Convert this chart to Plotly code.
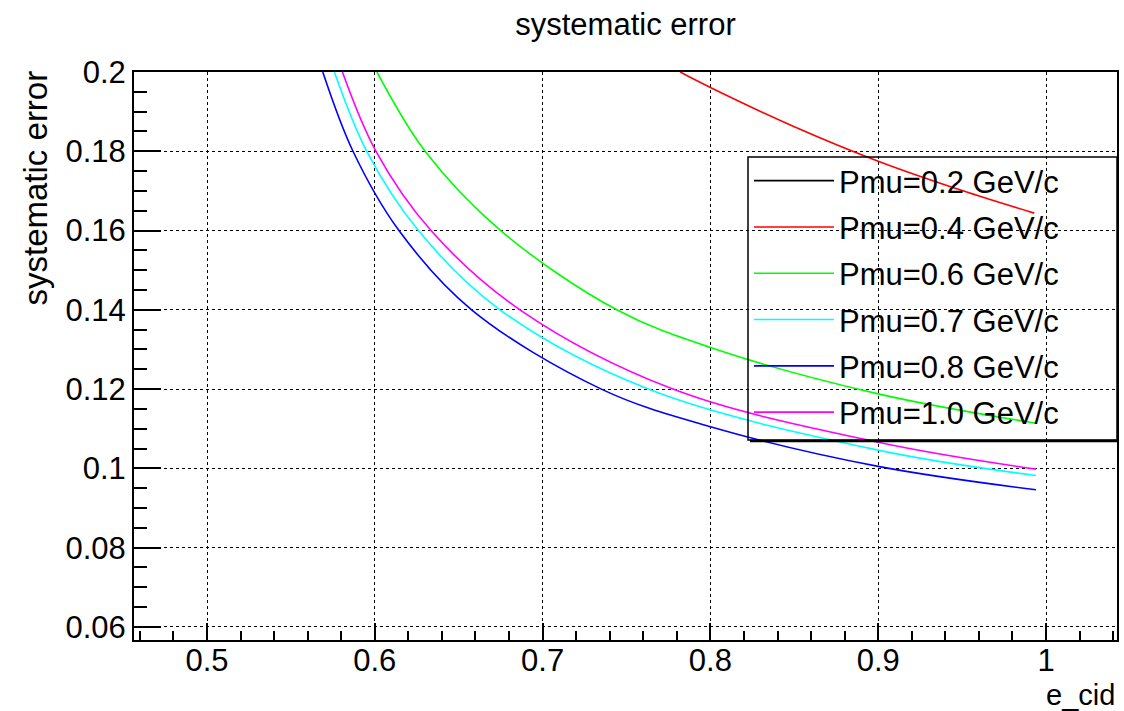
import plotly.graph_objects as go

# ---- data ----
names = ["Pmu=0.2 GeV/c", "Pmu=0.4 GeV/c", "Pmu=0.6 GeV/c",
         "Pmu=0.7 GeV/c", "Pmu=0.8 GeV/c", "Pmu=1.0 GeV/c"]
colors = ["#000000", "#ff0000", "#00ff00", "#00ffff", "#0000ff", "#ff00ff"]

# Pmu=0.2 lies entirely above the displayed range (legend entry only)
x_p02 = [None]
y_p02 = [None]

x_p04 = [0.782, 0.800, 0.850, 0.900, 0.950, 0.993]
y_p04 = [0.200, 0.1961, 0.1862, 0.1775, 0.1701, 0.1644]

x_p06 = [0.6013, 0.630, 0.675, 0.7442, 0.800, 0.900, 0.994]
y_p06 = [0.200, 0.180, 0.160, 0.140, 0.1305, 0.1188, 0.1114]

x_p07 = [0.5759, 0.5952, 0.626, 0.6746, 0.763, 0.900, 0.994]
y_p07 = [0.200, 0.180, 0.160, 0.140, 0.120, 0.1046, 0.0982]

x_p08 = [0.569, 0.587, 0.6144, 0.6577, 0.735, 0.800, 0.900, 0.994]
y_p08 = [0.200, 0.180, 0.160, 0.140, 0.120, 0.1105, 0.1005, 0.0946]

x_p10 = [0.5807, 0.6007, 0.6335, 0.6865, 0.7777, 0.900, 0.994]
y_p10 = [0.200, 0.180, 0.160, 0.140, 0.120, 0.1066, 0.0998]

xs = [x_p02, x_p04, x_p06, x_p07, x_p08, x_p10]
ys = [y_p02, y_p04, y_p06, y_p07, y_p08, y_p10]

x_ticks = [0.5, 0.6, 0.7, 0.8, 0.9, 1.0]
x_ticklabels = ["0.5", "0.6", "0.7", "0.8", "0.9", "1"]
y_ticks = [0.06, 0.08, 0.1, 0.12, 0.14, 0.16, 0.18, 0.2]
y_ticklabels = ["0.06", "0.08", "0.1", "0.12", "0.14", "0.16", "0.18", "0.2"]

FONT = "Liberation Sans, Arial, Helvetica, sans-serif"
FS = 31

fig = go.Figure()
for i, (n, c, x, y) in enumerate(zip(names, colors, xs, ys)):
    fig.add_trace(go.Scatter(
        x=x, y=y, mode="lines", name=n, legendgroup=f"g{i}",
        line=dict(color=c, width=1.6, shape="spline", smoothing=1.0),
        cliponaxis=True,
    ))

W, H = 1124, 711
L, R, T, B = 134, 7, 72, 71
pw = W - L - R
ph = H - T - B

def px_x(p):
    return (p - L) / pw

def px_y(p):
    return (H - B - p) / ph

axis_common = dict(
    showline=True, linecolor="black", linewidth=2, mirror=True,
    ticks="inside", tickcolor="black", tickwidth=1.5,
    showgrid=True, gridcolor="black", griddash="dot", gridwidth=1,
    zeroline=False, automargin=False,
    tickfont=dict(family=FONT, size=FS, color="black"),
)

fig.update_xaxes(
    range=[0.4565, 1.0423], tickvals=x_ticks, ticktext=x_ticklabels, ticklen=17,
    ticklabelstandoff=-8,
    minor=dict(dtick=0.02, tick0=0.0, ticks="inside", ticklen=9,
               tickcolor="black", tickwidth=1.5, showgrid=False),
    **axis_common,
)
fig.update_yaxes(
    range=[0.0567, 0.2], tickvals=y_ticks, ticktext=y_ticklabels, ticklen=27,
    minor=dict(dtick=0.005, tick0=0.0, ticks="inside", ticklen=13,
               tickcolor="black", tickwidth=1.5, showgrid=False),
    **axis_common,
)

fig.update_layout(
    width=W, height=H,
    margin=dict(l=L, r=R, t=T, b=B, pad=0, autoexpand=False),
    paper_bgcolor="white", plot_bgcolor="white",
    font=dict(family=FONT, size=FS, color="black"),
    title=dict(text="systematic error", x=0.5, xref="paper", xanchor="center",
               y=1 - 24 / H, yref="container", yanchor="middle",
               font=dict(family=FONT, size=FS, color="black")),
    legend=dict(
        x=px_x(749), y=px_y(154), xanchor="left", yanchor="top",
        bgcolor="rgba(0,0,0,0)", borderwidth=0,
        font=dict(family=FONT, size=FS, color="black"),
        tracegroupgap=3, itemwidth=80,
    ),
    showlegend=True,
    shapes=[
        dict(type="rect", xref="paper", yref="paper",
             x0=px_x(748), x1=px_x(1117), y0=px_y(440), y1=px_y(157),
             line=dict(color="black", width=1.5), fillcolor="rgba(0,0,0,0)"),
        dict(type="line", xref="paper", yref="paper",
             x0=px_x(750), x1=px_x(1118), y0=px_y(441), y1=px_y(441),
             line=dict(color="black", width=2.5)),
    ],
    annotations=[
        dict(text="systematic error", textangle=-90, xref="paper", yref="paper",
             x=px_x(35), y=px_y(69), xanchor="center", yanchor="top",
             showarrow=False, font=dict(family=FONT, size=33, color="black")),
        dict(text="e_cid", xref="paper", yref="paper",
             x=1.0, y=px_y(695), xanchor="right", yanchor="middle",
             showarrow=False, font=dict(family=FONT, size=29, color="black")),
    ],
)

fig.write_html("out.html", config={"displayModeBar": False},
               post_script="document.body.style.margin='0px';")
